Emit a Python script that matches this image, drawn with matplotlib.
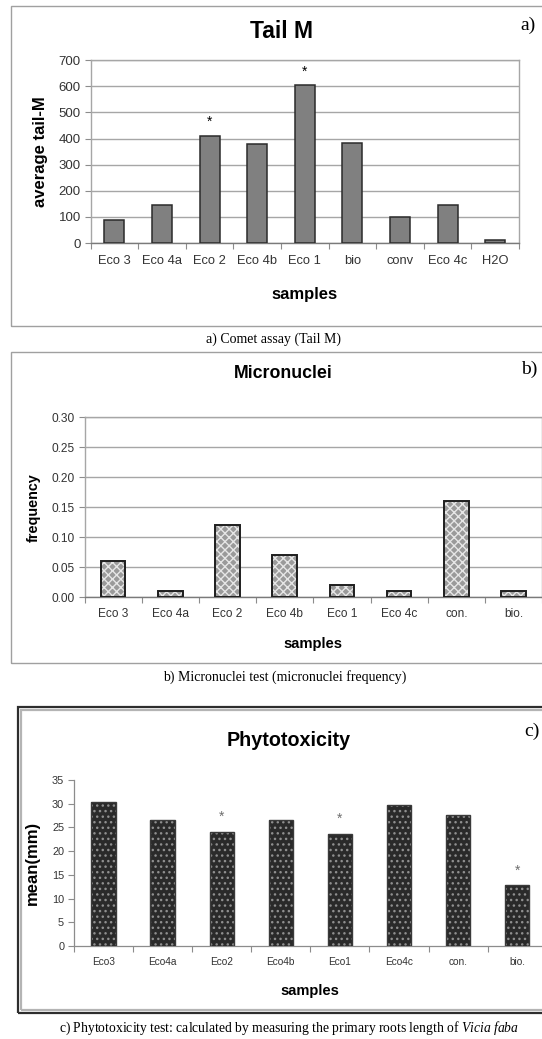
import matplotlib
matplotlib.use("Agg")
import matplotlib.pyplot as plt
from matplotlib.patches import Rectangle
import numpy as np

# ---- data -------------------------------------------------------------
tail_samples = ["Eco 3", "Eco 4a", "Eco 2", "Eco 4b", "Eco 1", "bio", "conv", "Eco 4c", "H2O"]
tail_values = [90, 147, 411, 380, 604, 383, 101, 147, 11]
tail_signif = [False, False, True, False, True, False, False, False, False]

mn_samples = ["Eco 3", "Eco 4a", "Eco 2", "Eco 4b", "Eco 1", "Eco 4c", "con.", "bio."]
mn_values = [0.06, 0.01, 0.12, 0.07, 0.02, 0.01, 0.16, 0.01]

phyto_samples = ["Eco3", "Eco4a", "Eco2", "Eco4b", "Eco1", "Eco4c", "con.", "bio."]
phyto_values = [30.4, 26.5, 24.1, 26.5, 23.6, 29.8, 27.6, 12.8]
phyto_signif = [False, False, True, False, True, False, False, True]

tail_yticks = list(range(0, 701, 100))
mn_yticks = [0.00, 0.05, 0.10, 0.15, 0.20, 0.25, 0.30]
phyto_yticks = list(range(0, 36, 5))

# serif italics inside captions
plt.rcParams["mathtext.fontset"] = "custom"
plt.rcParams["mathtext.rm"] = "Liberation Serif"
plt.rcParams["mathtext.it"] = "Liberation Serif:italic"

# ---- figure -----------------------------------------------------------
W, H = 542, 1039
fig = plt.figure(figsize=(W / 100, H / 100), dpi=100)
fig.patch.set_facecolor("white")

SANS = ["Liberation Sans", "DejaVu Sans"]
SERIF = ["Liberation Serif", "DejaVu Serif"]
AXCOL = "#8c8c8c"
GRIDCOL = "#a6a6a6"


def rect(l, t, r, b):
    return [l / W, 1 - b / H, (r - l) / W, (b - t) / H]


def box(l, t, r, b, color, lw):
    fig.add_artist(Rectangle((l / W, 1 - b / H), (r - l) / W, (b - t) / H,
                             transform=fig.transFigure, fill=False,
                             edgecolor=color, linewidth=lw, clip_on=False))


def ftext(x, y, s, **kw):
    fig.text(x / W, 1 - y / H, s, ha="center", va="center", **kw)


def category_axis(ax, n, labels, size, pad):
    ax.set_xlim(-0.5, n - 0.5)
    ax.set_xticks(np.arange(n))
    ax.set_xticklabels(labels, fontsize=size, family=SANS, color="#333333")
    ax.tick_params(axis="x", length=0, pad=pad)
    ax.set_xticks(np.arange(n + 1) - 0.5, minor=True)
    ax.tick_params(axis="x", which="minor", length=4, color=AXCOL, width=0.8)


# ---- panel a: comet assay --------------------------------------------
box(11.4, 6, 600, 326, "#a0a0a0", 1.0)
ax = fig.add_axes(rect(90.6, 60.3, 519, 243))
x = np.arange(len(tail_samples))
ax.bar(x, tail_values, width=0.42, color="#808080", edgecolor="#2b2b2b",
       linewidth=1.1, zorder=3)
ax.set_ylim(0, 700)
ax.set_yticks(tail_yticks)
ax.set_yticklabels([str(v) for v in tail_yticks], fontsize=9.5, family=SANS, color="#333333")
ax.tick_params(axis="y", length=4, color=AXCOL, width=0.8, pad=3)
ax.yaxis.grid(True, color=GRIDCOL, linewidth=1.0, zorder=0)
category_axis(ax, len(tail_samples), tail_samples, 9.3, 9)
for s in ax.spines.values():
    s.set_color(GRIDCOL)
    s.set_linewidth(1.0)
ax.spines["bottom"].set_color("#7a7a7a")
for xi, v, sig in zip(x, tail_values, tail_signif):
    if sig:
        ax.annotate("*", (xi, v), xytext=(0, 14), textcoords="offset pixels",
                    ha="center", va="center", fontsize=10, family=SANS, color="black")
ax.set_xlabel("samples", fontsize=12, fontweight="bold", family=SANS, labelpad=14)
ax.set_ylabel("average tail-M", fontsize=12, fontweight="bold", family=SANS, labelpad=8)
ftext(282, 32, "Tail M", fontsize=16.5, fontweight="bold", family=SANS)
ftext(528, 25, "a)", fontsize=14, family=SERIF)
ftext(273, 339, "a) Comet assay (Tail M)", fontsize=10, family=SERIF)

# ---- panel b: micronuclei --------------------------------------------
box(11.4, 352, 600, 663, "#a0a0a0", 1.0)
ax = fig.add_axes(rect(84.5, 417.3, 542.2, 597.3))
x = np.arange(len(mn_samples))
ax.bar(x, mn_values, width=0.43, color="#9a9a9a", edgecolor="#e6e6e6",
       hatch="xxxx", linewidth=0, zorder=3)
ax.bar(x, mn_values, width=0.43, fill=False, edgecolor="#1e1e1e",
       linewidth=1.4, zorder=4)
ax.set_ylim(0, 0.30)
ax.set_yticks(mn_yticks)
ax.set_yticklabels([f"{v:.2f}" for v in mn_yticks], fontsize=8.6, family=SANS, color="#333333")
ax.tick_params(axis="y", length=4, color=AXCOL, width=0.8, pad=3)
ax.yaxis.grid(True, color=GRIDCOL, linewidth=1.0, zorder=0)
category_axis(ax, len(mn_samples), mn_samples, 8.6, 8)
for s in ax.spines.values():
    s.set_color(GRIDCOL)
    s.set_linewidth(1.0)
ax.spines["bottom"].set_color("#7a7a7a")
ax.set_xlabel("samples", fontsize=10.6, fontweight="bold", family=SANS, labelpad=12)
ax.set_ylabel("frequency", fontsize=10.4, fontweight="bold", family=SANS, labelpad=8)
ftext(283, 373, "Micronuclei", fontsize=12.8, fontweight="bold", family=SANS)
ftext(529, 369, "b)", fontsize=14, family=SERIF)
ftext(285, 677, "b) Micronuclei test (micronuclei frequency)", fontsize=10, family=SERIF)

# ---- panel c: phytotoxicity ------------------------------------------
box(17.7, 706.7, 600, 1012.5, "#2e2e2e", 1.6)
box(20.7, 709.5, 600, 1009.8, "#b4b4b4", 1.6)
ax = fig.add_axes(rect(73.9, 780, 546.8, 946))
x = np.arange(len(phyto_samples))
ax.bar(x, phyto_values, width=0.41, color="#2a2a2a", edgecolor="#8f8f8f",
       hatch="...", linewidth=0, zorder=3)
ax.bar(x, phyto_values, width=0.41, fill=False, edgecolor="#3a3a3a",
       linewidth=1.0, zorder=4)
ax.set_ylim(0, 35)
ax.set_yticks(phyto_yticks)
ax.set_yticklabels([str(v) for v in phyto_yticks], fontsize=7.8, family=SANS, color="#333333")
ax.tick_params(axis="y", length=4, color=AXCOL, width=0.8, pad=3)
category_axis(ax, len(phyto_samples), phyto_samples, 7.3, 8)
for side in ("top", "right"):
    ax.spines[side].set_visible(False)
for side in ("left", "bottom"):
    ax.spines[side].set_color(AXCOL)
    ax.spines[side].set_linewidth(0.9)
for xi, v, sig in zip(x, phyto_values, phyto_signif):
    if sig:
        ax.annotate("*", (xi, v), xytext=(0, 15), textcoords="offset pixels",
                    ha="center", va="center", fontsize=10, family=SANS, color="#6e6e6e")
ax.set_xlabel("samples", fontsize=10.5, fontweight="bold", family=SANS, labelpad=12)
ax.set_ylabel("mean(mm)", fontsize=12, fontweight="bold", family=SANS, labelpad=9)
ftext(289, 741, "Phytotoxicity", fontsize=14.2, fontweight="bold", family=SANS)
ftext(532, 731, "c)", fontsize=14, family=SERIF)
fig.text(289 / W, 1 - 1028 / H,
         "c) Phytotoxicity test: calculated by measuring the primary roots length of $\\it{Vicia\\ faba}$",
         ha="center", va="center", fontsize=9.8, family=SERIF)

fig.savefig("out.png", dpi=100, facecolor="white")
